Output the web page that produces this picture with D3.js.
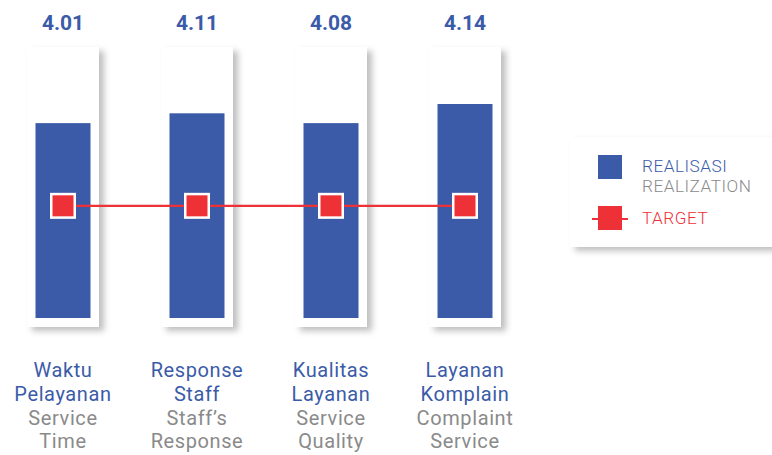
<!DOCTYPE html>
<html>
<head>
<meta charset="utf-8">
<script src="https://cdn.jsdelivr.net/npm/d3@7"></script>
<style>
  body { margin: 0; background: #fff; }
  svg { display: block; font-family: Roboto, "Noto Sans", sans-serif; }
</style>
</head>
<body>
<div id="chart"></div>
<script>
// categories (two lines Indonesian, two lines English)
var catId = [["Waktu", "Pelayanan"], ["Response", "Staff"], ["Kualitas", "Layanan"], ["Layanan", "Komplain"]];
var catEn = [["Service", "Time"], ["Staff\u2019s", "Response"], ["Service", "Quality"], ["Complaint", "Service"]];
// printed realisation scores
var realisasi = [4.01, 4.11, 4.08, 4.14];
// bar levels as drawn in the picture (same 0..max units)
var barLevel = [3.77, 3.96, 3.77, 4.14];
var target = [2.17, 2.17, 2.17, 2.17];

const width = 772;
const height = 455;
var blue = "#3b5ba9";
var red = "#ee3137";
var grey = "#8a8a8a";

var svg = d3.select("#chart").append("svg")
  .attr("width", width)
  .attr("height", height);

var defs = svg.append("defs");
var f = defs.append("filter").attr("id", "shadow")
  .attr("x", "-20%").attr("y", "-20%").attr("width", "160%").attr("height", "160%");
f.append("feDropShadow")
  .attr("dx", 5).attr("dy", 4).attr("stdDeviation", 3)
  .attr("flood-color", "#000").attr("flood-opacity", 0.25);

var idx = d3.range(catId.length);

/* Scales */
var x = d3.scalePoint().domain(idx).range([63, 465]);
var y = d3.scaleLinear().domain([0, d3.max(barLevel)]).range([318, 104]);

var cardW = 72, barW = 55;

/* white cards behind the bars */
svg.append("g").selectAll("rect")
  .data(idx).enter()
  .append("rect")
  .attr("x", d => x(d) - cardW / 2)
  .attr("y", 47)
  .attr("width", cardW)
  .attr("height", 280)
  .attr("fill", "#fff")
  .attr("filter", "url(#shadow)");

/* bars */
svg.append("g").selectAll("rect")
  .data(barLevel).enter()
  .append("rect")
  .attr("x", (d, i) => x(i) - barW / 2)
  .attr("y", d => y(d))
  .attr("width", barW)
  .attr("height", d => y(0) - y(d))
  .attr("fill", blue);

/* value labels */
svg.append("g").selectAll("text")
  .data(realisasi).enter()
  .append("text")
  .attr("x", (d, i) => x(i))
  .attr("y", 30)
  .attr("text-anchor", "middle")
  .attr("font-size", 21)
  .attr("font-weight", 700)
  .attr("fill", blue)
  .text(d => d.toFixed(2));

/* target line + markers */
var line = d3.line()
  .x((d, i) => x(i))
  .y(d => y(d));

svg.append("path")
  .datum(target)
  .attr("d", line)
  .attr("fill", "none")
  .attr("stroke", red)
  .attr("stroke-width", 2.2);

var mk = svg.append("g").selectAll("g")
  .data(target).enter()
  .append("g")
  .attr("transform", (d, i) => `translate(${x(i)}, ${y(d)})`);
mk.append("rect")
  .attr("x", -13).attr("y", -13).attr("width", 26).attr("height", 26)
  .attr("fill", "#fff");
mk.append("rect")
  .attr("x", -10.5).attr("y", -10.5).attr("width", 21).attr("height", 21)
  .attr("fill", red);

/* category labels */
var labels = svg.append("g").selectAll("text")
  .data(idx).enter()
  .append("text")
  .attr("text-anchor", "middle")
  .attr("font-size", 20)
  .attr("letter-spacing", 0.6);
labels.each(function(i) {
  var t = d3.select(this);
  var lines = catId[i].map(s => [s, blue]).concat(catEn[i].map(s => [s, grey]));
  lines.forEach((l, k) => {
    t.append("tspan")
      .attr("x", x(i))
      .attr("y", 377 + k * 23.8)
      .attr("fill", l[1])
      .text(l[0]);
  });
});

/* legend */
var lg = svg.append("g").attr("transform", "translate(570, 137)");
lg.append("rect")
  .attr("width", 230).attr("height", 110)
  .attr("fill", "#fff")
  .attr("filter", "url(#shadow)");
lg.append("rect")
  .attr("x", 28).attr("y", 18).attr("width", 24).attr("height", 24)
  .attr("fill", blue);
lg.append("line")
  .attr("x1", 22).attr("x2", 58).attr("y1", 82).attr("y2", 82)
  .attr("stroke", red).attr("stroke-width", 2);
lg.append("rect")
  .attr("x", 28).attr("y", 69).attr("width", 24).attr("height", 24)
  .attr("fill", red);
var legendText = [["REALISASI", blue, 35], ["REALIZATION", grey, 54.5], ["TARGET", red, 87]];
lg.selectAll("text.lt")
  .data(legendText).enter()
  .append("text")
  .attr("class", "lt")
  .attr("x", 72).attr("y", d => d[2])
  .attr("font-size", 17.2).attr("font-weight", 300)
  .attr("letter-spacing", 0.5)
  .attr("fill", d => d[1])
  .text(d => d[0]);
</script>
</body>
</html>
